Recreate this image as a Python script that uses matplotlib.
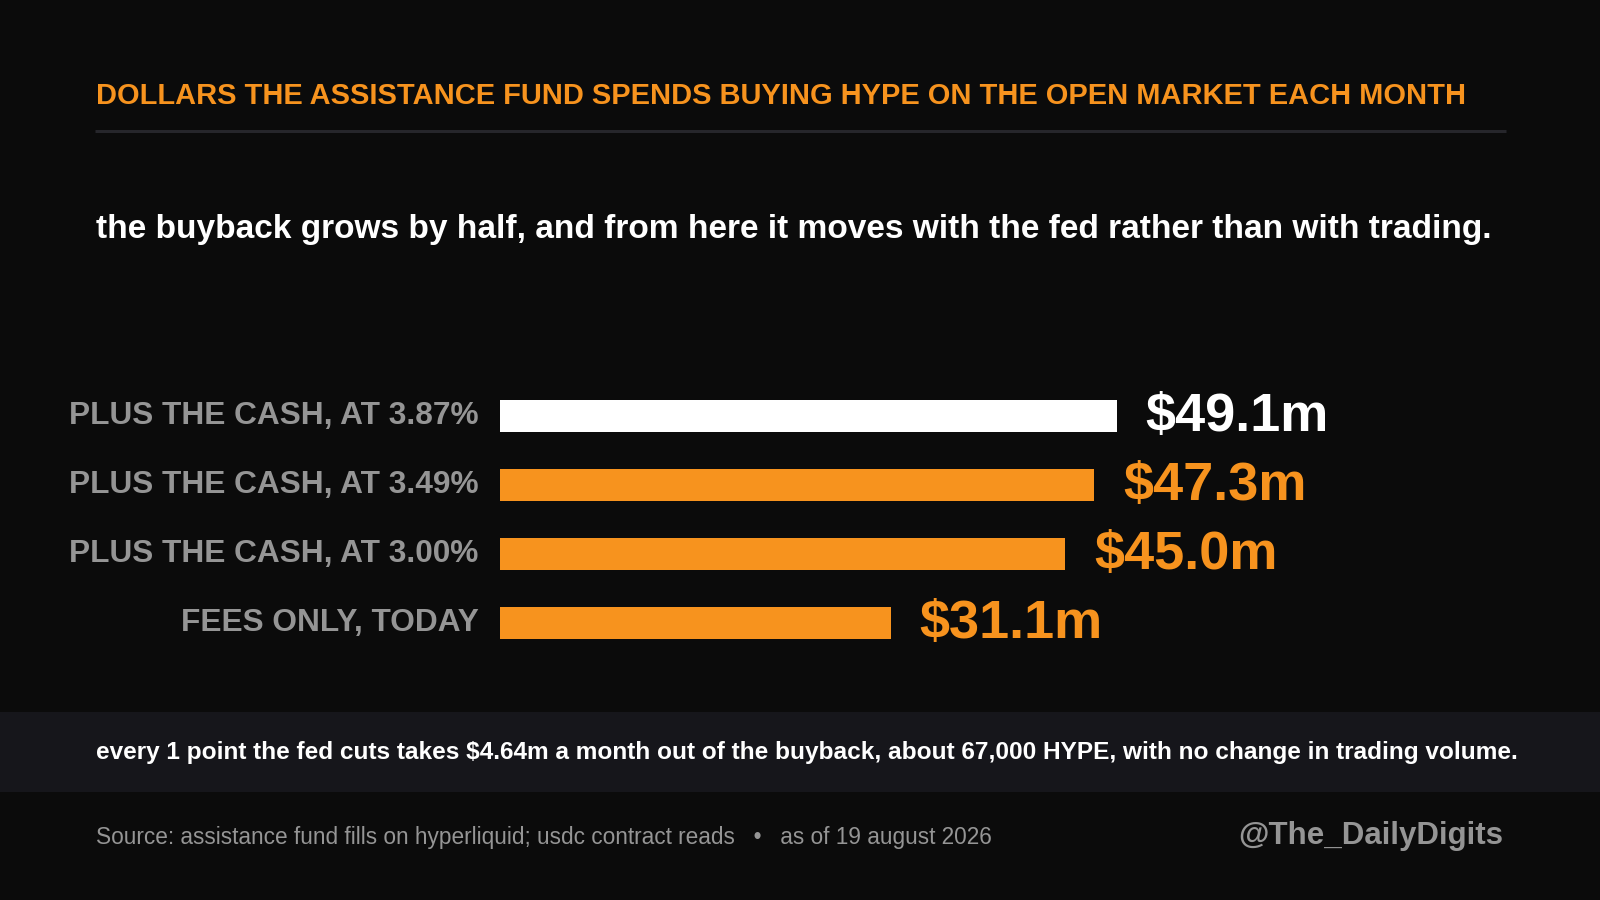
import matplotlib
matplotlib.use("Agg")
import matplotlib.pyplot as plt
from matplotlib.patches import Rectangle
from matplotlib.lines import Line2D

plt.rcParams['font.family'] = ['Liberation Sans', 'DejaVu Sans']

# ---- data ----
categories = ["PLUS THE CASH, AT 3.87%", "PLUS THE CASH, AT 3.49%",
              "PLUS THE CASH, AT 3.00%", "FEES ONLY, TODAY"]
values = [49.1, 47.3, 45.0, 31.1]
value_labels = ["$49.1m", "$47.3m", "$45.0m", "$31.1m"]
bar_colors = ["#ffffff", "#f7931e", "#f7931e", "#f7931e"]
label_colors = ["#ffffff", "#f7931e", "#f7931e", "#f7931e"]

title = "DOLLARS THE ASSISTANCE FUND SPENDS BUYING HYPE ON THE OPEN MARKET EACH MONTH"
subtitle = "the buyback grows by half, and from here it moves with the fed rather than with trading."
callout = ("every 1 point the fed cuts takes $4.64m a month out of the buyback, "
           "about 67,000 HYPE, with no change in trading volume.")
source = "Source: assistance fund fills on hyperliquid; usdc contract reads   \u2022   as of 19 august 2026"
handle = "@The_DailyDigits"

BG = "#0b0b0b"
ORANGE = "#f7931e"
GRAY = "#959595"

W, H = 1600, 900
fig = plt.figure(figsize=(16, 9), dpi=100, facecolor=BG)


def fx(x):
    return x / W


def fy(y):
    return 1 - y / H


# title
fig.text(fx(96), fy(104), title, color=ORANGE, fontsize=20.9, fontweight='bold',
         ha='left', va='baseline')
# rule
fig.add_artist(Line2D([fx(95), fx(1506)], [fy(131.3), fy(131.3)], color="#26262b",
                      lw=2.2, transform=fig.transFigure, solid_capstyle='butt'))
# subtitle
fig.text(fx(96), fy(238), subtitle, color="white", fontsize=24.1, fontweight='bold',
         ha='left', va='baseline')

# bars axes
px_per_unit = 616.7 / 49.1
ax_left, ax_right = 500, 1600
ax_top, ax_bot = 381.5, 657.5
ax = fig.add_axes([fx(ax_left), fy(ax_bot), (ax_right - ax_left) / W, (ax_bot - ax_top) / H])
ax.set_facecolor("none")
ypos = list(range(len(categories)))
ax.barh(ypos, values, height=0.46, color=bar_colors, left=0)
ax.set_xlim(0, (ax_right - ax_left) / px_per_unit)
ax.set_ylim(3.5, -0.5)
ax.set_yticks([])
ax.set_xticks([])
for s in ax.spines.values():
    s.set_visible(False)
for yp, cat in zip(ypos, categories):
    ax.annotate(cat, xy=(0, yp), xytext=(-15.6, -5.8), textcoords='offset points',
                color=GRAY, fontsize=22.75, fontweight='bold', ha='right', va='baseline',
                annotation_clip=False)
for yp, v, lab, c in zip(ypos, values, value_labels, label_colors):
    ax.annotate(lab, xy=(v, yp), xytext=(20.9, -10.6), textcoords='offset points',
                color=c, fontsize=39, fontweight='bold', ha='left', va='baseline')

# callout band
fig.add_artist(Rectangle((0, fy(792)), 1, (792 - 712) / H, transform=fig.transFigure,
                         facecolor="#16161b", edgecolor='none', zorder=0))
fig.text(fx(96), fy(759.5), callout, color="white", fontsize=17.6, fontweight='bold',
         ha='left', va='baseline')

# footer
fig.text(fx(96), fy(844), source, color=GRAY, fontsize=16.3, ha='left', va='baseline')
fig.text(fx(1503), fy(844), handle, color=GRAY, fontsize=22.5, fontweight='bold',
         ha='right', va='baseline')

fig.savefig("out.png", dpi=100, facecolor=BG)
